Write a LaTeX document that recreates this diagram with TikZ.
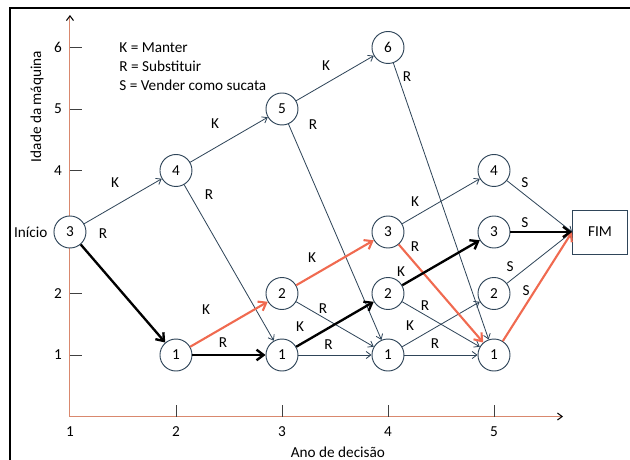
\documentclass[tikz,border=0pt]{standalone}
\usepackage{fontspec}
\setmainfont{Carlito}
\usepackage{xcolor}
\usetikzlibrary{arrows.meta}

\definecolor{edgeblue}{HTML}{2F4559}
\definecolor{pathred}{HTML}{F06A50}
\definecolor{axisred}{HTML}{D9886E}

\begin{document}
\begin{tikzpicture}[
    x=3.18cm, y=1.845cm,
    state/.style={draw=edgeblue, circle, fill=white, line width=0.8pt,
                  minimum size=0.96cm, inner sep=0pt,
                  font=\fontsize{13}{15}\selectfont},
    endbox/.style={draw=edgeblue, rectangle, line width=0.8pt,
                   minimum width=1.65cm, minimum height=1.32cm,
                   font=\fontsize{13}{15}\selectfont},
    lbl/.style={font=\fontsize{13}{15}\selectfont, inner sep=1pt},
    keep/.style={-{Straight Barb[length=4pt, width=6pt]}, edgeblue, line width=0.7pt},
    best/.style={-{Straight Barb[length=6pt, width=9pt]}, black, line width=2pt},
    alt/.style={-{Straight Barb[length=6pt, width=9pt]}, pathred, line width=1.8pt},
    axis/.style={axisred, line width=0.9pt},
    tickmark/.style={black!75, line width=0.7pt}
]
\useasboundingbox (0.340,-0.707) rectangle (6.283,6.772);
% Frame
\draw[line width=1.6pt] (0.434,-0.75) -- (0.434,6.642) -- (6.3,6.642);
% Axes
\draw[axis, -{Straight Barb[length=4pt, width=6pt, black]}] (1,0) -- (1,6.528);
\draw[axis, -{Straight Barb[length=4pt, width=6pt, black]}] (1,0) -- (5.651,0);
\foreach \a in {1,2,4,5,6} {
  \draw[tickmark] (1,\a) -- (1.113,\a);
  \node[lbl] at (0.887,\a) {\a};
}
\foreach \t in {2,3,4,5}
  \draw[tickmark] (\t,0) -- (\t,0.18);
\foreach \t in {1,...,5}
  \node[lbl] at (\t,-0.252) {\t};
\node[lbl] (xlab) at (3.528,-0.577) {Ano de decisão};
\node[lbl, rotate=90] (ylab) at (0.689,5.04) {Idade da máquina};
% Legend
\node[lbl, anchor=west] (leg1) at (1.453,6.0) {K = Manter};
\node[lbl, anchor=west] (leg2) at (1.453,5.69) {R = Substituir};
\node[lbl, anchor=west] (leg3) at (1.453,5.39) {S = Vender como sucata};
% States (ano, idade)
\node[state] (n13) at (1,3) {3};
\node[lbl, anchor=east] (inicio) at (0.80,3) {Início};
\node[state] (n24) at (2,4) {4};
\node[state] (n21) at (2,1) {1};
\node[state] (n35) at (3,5) {5};
\node[state] (n32) at (3,2) {2};
\node[state] (n31) at (3,1) {1};
\node[state] (n46) at (4,6) {6};
\node[state] (n43) at (4,3) {3};
\node[state] (n42) at (4,2) {2};
\node[state] (n41) at (4,1) {1};
\node[state] (n54) at (5,4) {4};
\node[state] (n53) at (5,3) {3};
\node[state] (n52) at (5,2) {2};
\node[state] (n51) at (5,1) {1};
\node[endbox] (fim) at (6.0,3) {FIM};
% Thin decisions
\draw[keep] (n13) -- (n24);
\draw[keep] (n24) -- (n35);
\draw[keep] (n24) -- (n31);
\draw[keep] (n35) -- (n46);
\draw[keep] (n35) -- (n41);
\draw[keep] (n32) -- (n41);
\draw[keep] (n31) -- (n41);
\draw[keep] (n46) -- (n51);
\draw[keep] (n43) -- (n54);
\draw[keep] (n42) -- (n51);
\draw[keep] (n41) -- (n52);
\draw[keep] (n41) -- (n51);
\draw[keep] (n54) -- (fim.west);
\draw[keep] (n52) -- (fim.west);
% Alternative optimum (red)
\draw[alt] (n21) -- (n32);
\draw[alt] (n32) -- (n43);
\draw[alt] (n43) -- (n51);
\draw[alt] (n51) -- (fim.west);
% Optimum (black)
\draw[best] (n13) -- (n21);
\draw[best] (n21) -- (n31);
\draw[best] (n31) -- (n42);
\draw[best] (n42) -- (n53);
\draw[best] (n53) -- (fim.west);
% Edge labels
\node[lbl] at (1.425,3.81) {K};
\node[lbl] at (1.311,2.98) {R};
\node[lbl] at (2.368,4.76) {K};
\node[lbl] at (2.311,3.60) {R};
\node[lbl] at (2.283,1.73) {K};
\node[lbl] at (2.443,1.195) {R};
\node[lbl] at (3.415,5.70) {K};
\node[lbl] at (3.292,4.74) {R};
\node[lbl] at (3.283,2.58) {K};
\node[lbl] at (3.387,1.76) {R};
\node[lbl] at (3.17,1.46) {K};
\node[lbl] at (3.44,1.17) {R};
\node[lbl] at (4.179,5.52) {R};
\node[lbl] at (4.255,3.50) {K};
\node[lbl] at (4.255,2.77) {R};
\node[lbl] at (4.123,2.35) {K};
\node[lbl] at (4.349,1.80) {R};
\node[lbl] at (4.208,1.47) {K};
\node[lbl] at (4.443,1.18) {R};
\node[lbl] at (5.292,3.80) {S};
\node[lbl] at (5.292,3.15) {S};
\node[lbl] at (5.151,2.43) {S};
\node[lbl] at (5.302,2.04) {S};
\end{tikzpicture}
\end{document}
